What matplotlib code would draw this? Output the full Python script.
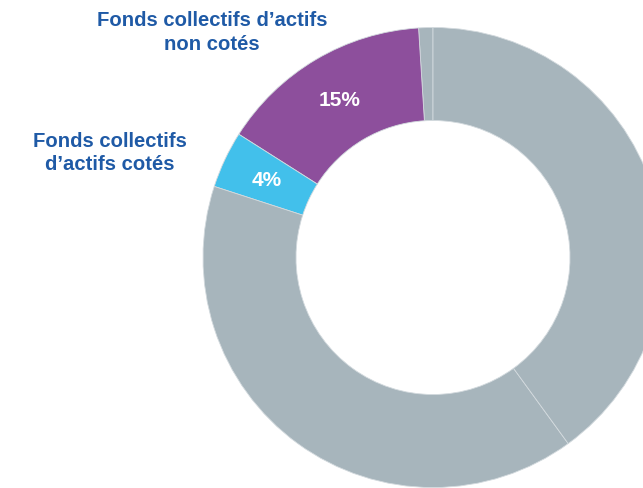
import matplotlib.pyplot as plt

# Allocation shares, counter-clockwise from 12 o'clock
shares = [1, 15, 4, 40, 40]
pct_labels = ['', '15%', '4%', '', '']
colors = ['#a7b5bc', '#8d4f9c', '#42c0eb', '#a7b5bc', '#a7b5bc']

category_labels = ["Fonds collectifs d\u2019actifs\nnon cotés",
                   "Fonds collectifs\nd\u2019actifs cotés"]

W, H = 643, 489
fig = plt.figure(figsize=(W / 100, H / 100), dpi=100)
ax = fig.add_axes([0, 0, 1, 1])

pct_iter = iter(pct_labels)
wedges, _, autotexts = ax.pie(
    shares, colors=colors, startangle=90, counterclock=True,
    center=(433, H - 258.5), radius=230,
    autopct=lambda p: next(pct_iter), pctdistance=0.8,
    wedgeprops=dict(width=93, edgecolor='#d3dade', linewidth=0.6),
    textprops=dict(color='white', fontsize=15, fontweight='bold',
                   family='Liberation Sans'))

ax.set_xlim(0, W)
ax.set_ylim(0, H)
ax.set_aspect('equal')
ax.axis('off')

label_style = dict(color='#1f5aa6', fontsize=14.6, fontweight='bold',
                   family='Liberation Sans', ha='center', va='center',
                   linespacing=1.32)
ax.text(212, H - 32.5, category_labels[0], **label_style)
ax.text(110, H - 153, category_labels[1], **label_style)

fig.savefig('out.png', dpi=100)
